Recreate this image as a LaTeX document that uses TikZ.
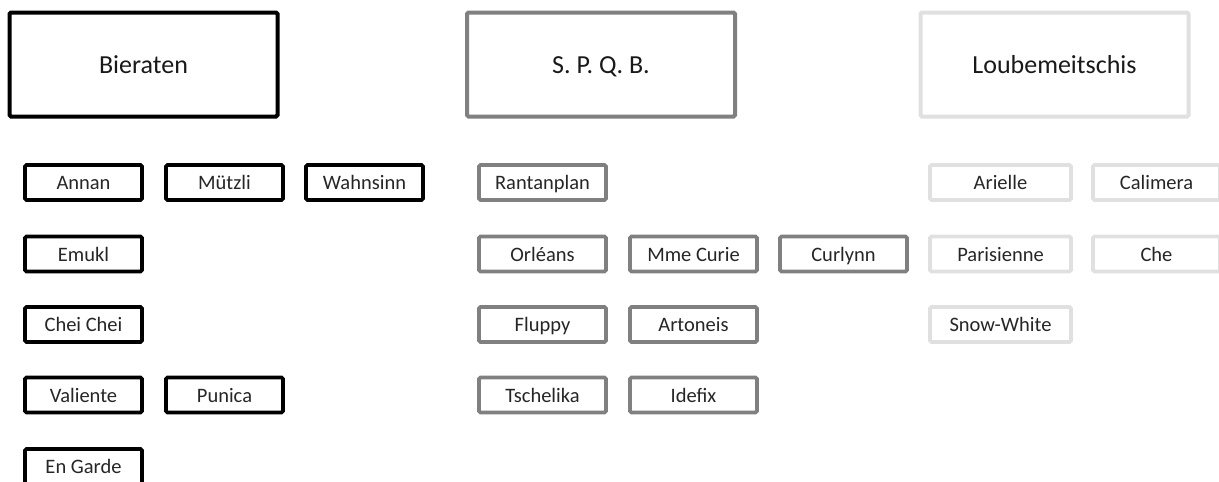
\documentclass[tikz,border=0pt]{standalone}
\usepackage{fontspec}
\setmainfont{Carlito}
\begin{document}
\begin{tikzpicture}[x=1pt,y=-1pt,
  bigbox/.style={draw, line width=4pt, rounded corners=1.5pt, minimum width=268pt, minimum height=104pt, inner sep=0pt, text height=18.6pt, text depth=0pt, font=\fontsize{26}{30}\selectfont, text=black!90},
  smallbox/.style={draw, line width=3.6pt, rounded corners=1.5pt, minimum height=35pt, inner sep=0pt, text height=14.7pt, text depth=0pt, font=\fontsize{20.5}{24}\selectfont, text=black!85},
  grpA/.style={draw=black},
  grpB/.style={draw=black!50},
  grpC/.style={draw=black!12},
  wA/.style={minimum width=117pt},
  wB/.style={minimum width=127pt},
  wC/.style={minimum width=141pt}]
\useasboundingbox (0,0) rectangle (1219,482);
% group headers
\node[bigbox,grpA] (bier) at (143.5,64.5) {Bieraten};
\node[bigbox,grpB] (spqb) at (601,64.5) {S. P. Q. B.};
\node[bigbox,grpC] (loub) at (1054.5,64.5) {Loubemeitschis};
% Bieraten
\node[smallbox,grpA,wA] (annan) at (83.5,182.5) {Annan};
\node[smallbox,grpA,wA] (muetzli) at (224.5,182.5) {Mützli};
\node[smallbox,grpA,wA] (wahnsinn) at (364.5,182.5) {Wahnsinn};
\node[smallbox,grpA,wA] (emukl) at (83.5,254) {Emukl};
\node[smallbox,grpA,wA] (cheichei) at (83.5,324.5) {Chei Chei};
\node[smallbox,grpA,wA] (valiente) at (83.5,395) {Valiente};
\node[smallbox,grpA,wA] (punica) at (224.5,395) {Punica};
\node[smallbox,grpA,wA] (engarde) at (83.5,466.5) {En Garde};
% S.P.Q.B.
\node[smallbox,grpB,wB] (rantanplan) at (542.5,182.5) {Rantanplan};
\node[smallbox,grpB,wB] (orleans) at (542.5,254) {Orléans};
\node[smallbox,grpB,wB] (mmecurie) at (693.5,254) {Mme Curie};
\node[smallbox,grpB,wB] (curlynn) at (843.5,254) {Curlynn};
\node[smallbox,grpB,wB] (fluppy) at (542.5,324.5) {Fluppy};
\node[smallbox,grpB,wB] (artoneis) at (693.5,324.5) {Artoneis};
\node[smallbox,grpB,wB] (tschelika) at (542.5,395) {Tschelika};
\node[smallbox,grpB,wB] (idefix) at (693.5,395) {Idefix};
% Loubemeitschis
\node[smallbox,grpC,wC] (arielle) at (1000.5,182.5) {Arielle};
\node[smallbox,grpC,wB] (calimera) at (1156.5,182.5) {Calimera};
\node[smallbox,grpC,wC] (parisienne) at (1000.5,254) {Parisienne};
\node[smallbox,grpC,wB] (che) at (1156.5,254) {Che};
\node[smallbox,grpC,wC] (snowwhite) at (1000.5,324.5) {Snow-White};
\end{tikzpicture}
\end{document}
